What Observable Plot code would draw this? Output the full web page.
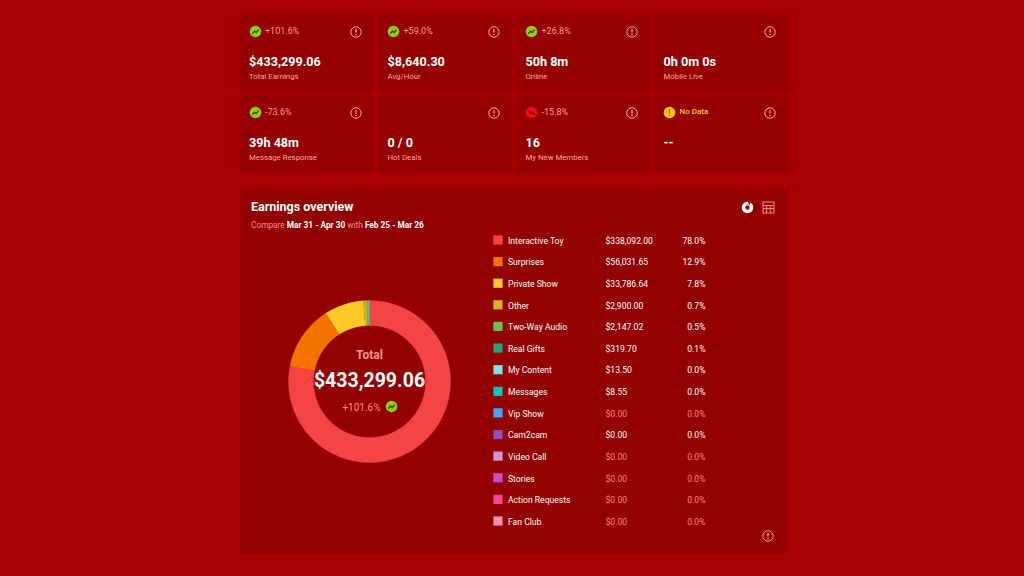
<!DOCTYPE html>
<html lang="en">
<head>
<meta charset="utf-8">
<title>Earnings overview</title>
<script src="https://cdn.jsdelivr.net/npm/d3@7"></script>
<script src="https://cdn.jsdelivr.net/npm/@observablehq/plot@0.6"></script>
<style>
  html, body { margin: 0; padding: 0; width: 1024px; height: 576px; overflow: hidden; background: #a80000; font-family: Roboto, sans-serif; }
  #page { position: relative; width: 1024px; height: 576px; }
  .tile { position: absolute; width: 133px; height: 77px; background: #950000; box-shadow: 0 0 3px #9c0000; }
  .abs { position: absolute; white-space: nowrap; }
  .delta { left: 25px; top: 10px; font-size: 9px; line-height: 12px; color: #ff9a8e; }
  .value { left: 9px; top: 38px; font-size: 12.6px; line-height: 17px; font-weight: 700; color: #fff; }
  .label { left: 9px; top: 56px; font-size: 7.8px; line-height: 12px; color: #ffa79c; }
  .panel { position: absolute; left: 240px; top: 189px; width: 547px; height: 364px; background: #920000; }
  .title { left: 11px; top: 10px; font-size: 12.5px; line-height: 16px; font-weight: 700; color: #fff; }
  .sub { left: 11px; top: 30px; font-size: 8.3px; line-height: 12px; color: #ff8d80; }
  .sub b { color: #fff; font-weight: 700; }
  .plotwrap { position: absolute; }
  .plotwrap svg { display: block; }
</style>
</head>
<body>
<div id="page"></div>
<script>
// KPI tiles
const tileLabels = ["Total Earnings", "Avg/Hour", "Online", "Mobile Live", "Message Response", "Hot Deals", "My New Members", ""];
const tileValues = ["$433,299.06", "$8,640.30", "50h 8m", "0h 0m 0s", "39h 48m", "0 / 0", "16", "--"];
const tileDeltas = ["+101.6%", "+59.0%", "+26.8%", "", "-73.6%", "", "-15.8%", "No Data"];
const tileStates = ["up", "up", "up", "", "up", "", "down", "none"];

// Earnings overview
const categories = ["Interactive Toy", "Surprises", "Private Show", "Other", "Two-Way Audio", "Real Gifts", "My Content", "Messages", "Vip Show", "Cam2cam", "Video Call", "Stories", "Action Requests", "Fan Club"];
const amounts = [338092.00, 56031.65, 33786.64, 2900.00, 2147.02, 319.70, 13.50, 8.55, 0, 0, 0, 0, 0, 0];
const amountLabels = ["$338,092.00", "$56,031.65", "$33,786.64", "$2,900.00", "$2,147.02", "$319.70", "$13.50", "$8.55", "$0.00", "$0.00", "$0.00", "$0.00", "$0.00", "$0.00"];
const shareLabels = ["78.0%", "12.9%", "7.8%", "0.7%", "0.5%", "0.1%", "0.0%", "0.0%", "0.0%", "0.0%", "0.0%", "0.0%", "0.0%", "0.0%"];
const brightRows = ["Interactive Toy", "Surprises", "Private Show", "Other", "Two-Way Audio", "Real Gifts", "My Content", "Messages", "Cam2cam"];
const sliceColors = ["#f44444", "#f57200", "#ffca28", "#d6b41f", "#6cc04a", "#26a07a", "#80deea", "#14c0c8", "#42a5f5", "#8e4ec6", "#ce93d8", "#c84fc8", "#f04890", "#f48fb1"];
const totalText = "$433,299.06";
const totalDelta = "+101.6%";

const page = document.getElementById("page");
const FONT = "Roboto, sans-serif";
const color = {type: "ordinal", domain: categories, range: sliceColors};

function infoIcon(cx, cy) {
  return `<svg class="abs" style="left:${cx - 7}px;top:${cy - 7}px" width="14" height="14" viewBox="0 0 14 14">
    <circle cx="7" cy="7" r="5.2" fill="none" stroke="#ffa497" stroke-width="1"/>
    <rect x="6.4" y="3.9" width="1.2" height="3.8" fill="#ffa497"/><circle cx="7" cy="9.5" r=".8" fill="#ffa497"/></svg>`;
}
function stateIcon(state, cx, cy) {
  if (!state) return "";
  const bg = state === "up" ? "#8fce12" : state === "down" ? "#ee0c0c" : "#ffc61a";
  let glyph;
  if (state === "up") glyph = `<path d="M3.2 8.6 L5.6 6.2 L7.2 7.6 L9.6 4.6" fill="none" stroke="#234a00" stroke-width="1.3"/>`;
  else if (state === "down") glyph = `<path d="M3.2 4.6 L5.6 7 L7.2 5.6 L9.6 8.4" fill="none" stroke="#8a0000" stroke-width="1.3"/>`;
  else glyph = `<rect x="5.9" y="3" width="1.2" height="4.6" fill="#b06a00"/><circle cx="6.5" cy="9.2" r=".8" fill="#b06a00"/>`;
  return `<svg class="abs" style="left:${cx - 6.5}px;top:${cy - 6.5}px" width="13" height="13" viewBox="0 0 13 13"><circle cx="6.5" cy="6.5" r="5.8" fill="${bg}"/>${glyph}</svg>`;
}

// Tiles
const tileLefts = [240, 378.5, 516.5, 654.5];
const tileTops = [15, 96];
tileValues.forEach((value, i) => {
  const t = document.createElement("div");
  t.className = "tile";
  t.style.left = tileLefts[i % 4] + "px";
  t.style.top = tileTops[Math.floor(i / 4)] + "px";
  const noData = tileStates[i] === "none";
  t.innerHTML = stateIcon(tileStates[i], 15, 16)
    + `<div class="abs delta" style="${noData ? "color:#ffc61a;font-size:8px;font-weight:500" : ""}">${tileDeltas[i]}</div>`
    + infoIcon(115.5, 17)
    + `<div class="abs value">${value}</div><div class="abs label">${tileLabels[i]}</div>`;
  page.appendChild(t);
});

// Panel
const panel = document.createElement("div");
panel.className = "panel";
panel.innerHTML = `<div class="abs title">Earnings overview</div>
  <div class="abs sub">Compare <b>Mar 31 - Apr 30</b> with <b>Feb 25 - Mar 26</b></div>
  <svg class="abs" style="left:500px;top:11px" width="15" height="15" viewBox="0 0 15 15">
    <circle cx="7.5" cy="7.5" r="4" fill="none" stroke="#fff" stroke-width="3.6"/>
    <path d="M8 1 L11 1.5 L9 6 Z" fill="#920000"/></svg>
  <svg class="abs" style="left:521px;top:11px" width="15" height="15" viewBox="0 0 15 15" fill="none" stroke="#ff8d80" stroke-width="1">
    <rect x="2" y="2" width="11" height="11"/><path d="M2 5.5H13M2 8.5H13M5.6 5.5V13M9.3 5.5V13"/></svg>`
  + infoIcon(528, 347);
page.appendChild(panel);

// Donut: slices built from the amounts through d3.pie, positioned by Plot's x/y scales
const arcs = d3.pie().sort(null)(amounts);
const INNER = 56 / 81;
const ringPoints = [];
arcs.forEach((a, i) => {
  if (a.value <= 0) return;
  const n = Math.ceil((a.endAngle - a.startAngle) / 0.015) + 1;
  const angle = k => a.startAngle + (a.endAngle - a.startAngle) * k / n;
  for (let k = 0; k <= n; k++) ringPoints.push({name: categories[i], x: Math.sin(angle(k)), y: Math.cos(angle(k))});
  for (let k = n; k >= 0; k--) ringPoints.push({name: categories[i], x: INNER * Math.sin(angle(k)), y: INNER * Math.cos(angle(k))});
});

const donut = Plot.plot({
  width: 170, height: 170, margin: 4,
  x: {domain: [-1, 1], axis: null},
  y: {domain: [-1, 1], axis: null},
  color,
  style: {background: "transparent", fontFamily: FONT, overflow: "visible"},
  marks: [
    Plot.line(ringPoints, {x: "x", y: "y", z: "name", fill: "name", stroke: "name", strokeWidth: 0.3}),
    Plot.text(["Total"], {frameAnchor: "middle", dy: -26.5, fill: "#f79488", fontSize: 12, fontWeight: 700}),
    Plot.text([totalText], {frameAnchor: "middle", dy: -1, fill: "#fff", fontSize: 19.5, fontWeight: 700}),
    Plot.text([totalDelta], {frameAnchor: "middle", dx: -8, dy: 26, fill: "#ff8d80", fontSize: 10})
  ]
});
const donutWrap = document.createElement("div");
donutWrap.className = "plotwrap";
donutWrap.style.cssText = "left:284px;top:295.5px;width:170px;height:170px";
donutWrap.appendChild(donut);
page.appendChild(donutWrap);
const dIcon = document.createElement("div");
dIcon.innerHTML = stateIcon("up", 391, 406);
page.appendChild(dIcon.firstChild);

// Legend table
const rows = categories.map((name, i) => ({name, amount: amountLabels[i], share: shareLabels[i], bright: brightRows.includes(name)}));
const rowFill = d => d.bright ? "#fff" : "#ff8678";
const legend = Plot.plot({
  width: 240, height: 310, margin: 0,
  x: {axis: null},
  y: {type: "point", domain: categories, range: [15.5, 296.5], padding: 0, round: false, axis: null},
  color,
  style: {background: "transparent", fontFamily: FONT, fontSize: "9px"},
  marks: [
    Plot.dot(rows, {y: "name", frameAnchor: "left", dx: 12.5, dy: -1, symbol: "square", r: 5.2, fill: "name", stroke: "none"}),
    Plot.text(rows, {y: "name", text: "name", frameAnchor: "left", dx: 22.5, fill: "#fff", fontSize: 8.6, textAnchor: "start"}),
    Plot.text(rows, {y: "name", text: "amount", frameAnchor: "left", dx: 120, fill: rowFill, fontSize: 8.6, textAnchor: "start"}),
    Plot.text(rows, {y: "name", text: "share", frameAnchor: "left", dx: 220, fill: rowFill, fontSize: 8.6, textAnchor: "end"})
  ]
});
const legendWrap = document.createElement("div");
legendWrap.className = "plotwrap";
legendWrap.style.cssText = "left:485px;top:225px;width:240px;height:310px";
legendWrap.appendChild(legend);
page.appendChild(legendWrap);
</script>
</body>
</html>
